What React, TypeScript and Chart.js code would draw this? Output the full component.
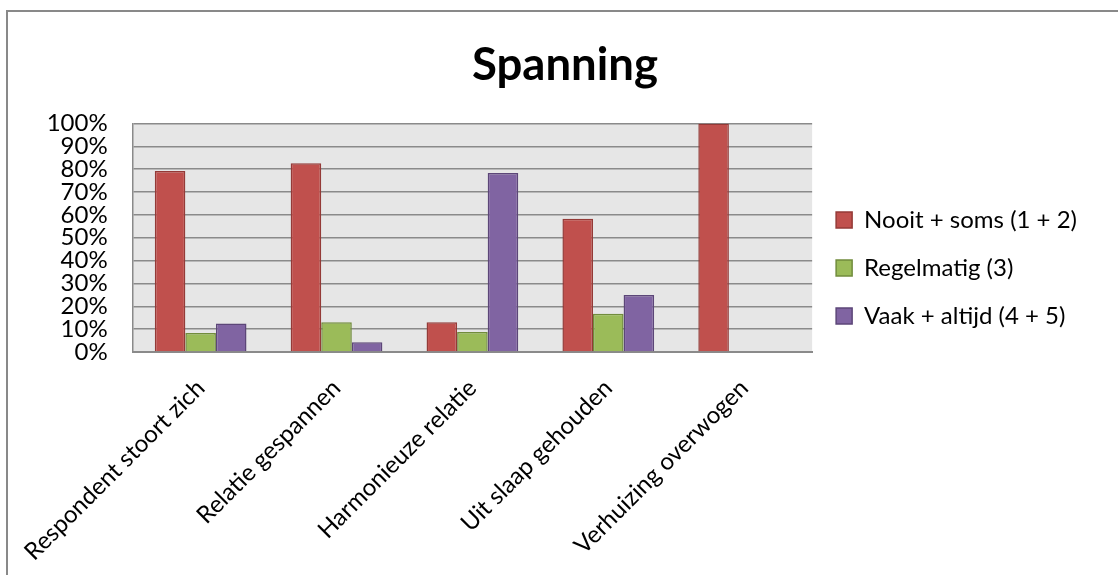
import { useEffect, useRef } from "react";
import { Chart, registerables } from "chart.js";

Chart.register(...registerables);

// Share of respondents per answer group (percent)
const categories = [
  "Respondent stoort zich",
  "Relatie gespannen",
  "Harmonieuze relatie",
  "Uit slaap gehouden",
  "Verhuizing overwogen",
];
const seriesNames = ["Nooit + soms (1 + 2)", "Regelmatig (3)", "Vaak + altijd (4 + 5)"];
const nooitSoms = [79.2, 82.6, 13.0, 58.3, 100];
const regelmatig = [8.3, 13.0, 8.7, 16.7, 0];
const vaakAltijd = [12.5, 4.3, 78.3, 25.0, 0];
const yTickValues = [0, 10, 20, 30, 40, 50, 60, 70, 80, 90, 100];

const FONT = "Lato, 'Open Sans', sans-serif";
const GRID = "#8a8a8a";
const LABEL_SIZE = 24;

// Fills the plotting area with a light grey background
const plotBackground = {
  id: "plotBackground",
  beforeDraw(chart: any) {
    const { ctx, chartArea } = chart;
    if (!chartArea) return;
    ctx.save();
    ctx.fillStyle = "#e6e6e6";
    ctx.fillRect(chartArea.left, chartArea.top, chartArea.width, chartArea.height);
    ctx.restore();
  },
};

export default function App() {
  const canvasRef = useRef<HTMLCanvasElement | null>(null);

  useEffect(() => {
    if (!canvasRef.current) return;
    const chart = new Chart(canvasRef.current, {
      type: "bar",
      data: {
        labels: categories,
        datasets: [
          {
            label: seriesNames[0],
            data: nooitSoms,
            backgroundColor: "#c0504d",
            borderColor: "#943a37",
            borderWidth: 1.5,
          },
          {
            label: seriesNames[1],
            data: regelmatig,
            backgroundColor: "#9bbb59",
            borderColor: "#718c3c",
            borderWidth: 1.5,
          },
          {
            label: seriesNames[2],
            data: vaakAltijd,
            backgroundColor: "#8064a2",
            borderColor: "#5c4678",
            borderWidth: 1.5,
          },
        ],
      },
      options: {
        animation: false,
        responsive: false,
        maintainAspectRatio: false,
        layout: { padding: { left: 35, right: 35, bottom: 0 } },
        datasets: {
          bar: { categoryPercentage: 0.675, barPercentage: 1 },
        },
        plugins: {
          title: {
            display: true,
            text: "Spanning",
            color: "#000",
            font: { family: FONT, size: 45.5, weight: "bold" },
            padding: { top: 25.7, bottom: 31.2 },
          },
          legend: {
            position: "right",
            align: "end",
            fullSize: false,
            maxWidth: 400,
            labels: {
              color: "#000",
              font: { family: FONT, size: LABEL_SIZE },
              boxWidth: 16,
              boxHeight: 16,
              padding: 24,
            },
          },
          tooltip: { enabled: false },
        },
        scales: {
          x: {
            grid: { display: false, drawTicks: false },
            border: { display: true, color: GRID, width: 2 },
            ticks: {
              color: "#000",
              font: { family: FONT, size: LABEL_SIZE },
              minRotation: 45,
              maxRotation: 45,
              padding: 22,
              labelOffset: 0,
              autoSkip: false,
            },
            afterFit(axis: any) {
              axis.height = 223;
              axis.paddingLeft = 0;
              axis.paddingRight = 0;
            },
          },
          y: {
            min: 0,
            max: 100,
            afterBuildTicks(axis: any) {
              axis.ticks = yTickValues.map((v) => ({ value: v }));
            },
            grid: { color: GRID, lineWidth: 1.5, drawTicks: false },
            border: { display: true, color: GRID, width: 1.5 },
            ticks: {
              color: "#000",
              font: { family: FONT, size: LABEL_SIZE },
              padding: 25,
              autoSkip: false,
              callback: (v: any) => `${v}%`,
            },
            afterFit(axis: any) {
              axis.width = 89.7;
            },
          },
        },
      },
      plugins: [plotBackground],
    });
    return () => chart.destroy();
  }, []);

  return (
    <div
      style={{
        position: "fixed",
        left: 0,
        top: 0,
        width: 1118,
        height: 575,
        overflow: "hidden",
        background: "#fff",
      }}
    >
      <div
        style={{
          position: "absolute",
          left: 6,
          top: 10,
          width: 1140,
          height: 620,
          boxSizing: "border-box",
          border: "2px solid #898989",
        }}
      >
        <canvas ref={canvasRef} width={1114} height={563} style={{ display: "block" }} />
      </div>
    </div>
  );
}
